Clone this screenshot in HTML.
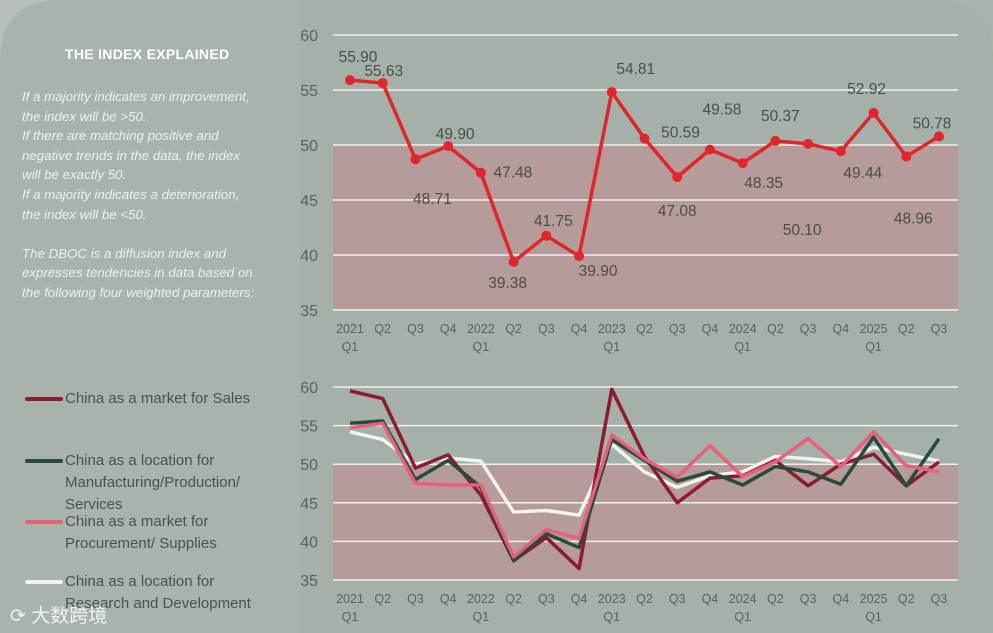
<!DOCTYPE html>
<html><head><meta charset="utf-8"><style>
html,body{margin:0;padding:0;width:993px;height:633px;overflow:hidden;background:#b7beb8;font-family:"Liberation Sans","Noto Sans CJK SC",sans-serif;}
#panel{position:absolute;left:0;top:0;width:993px;height:633px;}
.expl{position:absolute;left:22px;top:87px;width:264px;color:#eef0ec;font-style:italic;font-size:13.3px;line-height:19.6px;}
.title{position:absolute;left:65px;top:46px;color:#fff;font-weight:bold;font-size:14px;letter-spacing:0.3px;}
.leg{position:absolute;left:25px;font-size:15px;color:#4a524c;line-height:22px;}
.leg .sw{position:absolute;left:0;top:9px;width:38px;height:4px;border-radius:2px;}
.leg .tx{margin-left:40px;display:block;}
.wm{position:absolute;left:10px;top:601px;color:#f2f2f2;font-size:19px;}
</style></head><body>
<svg id="panel" width="993" height="633">
<rect x="0" y="0" width="993" height="633" fill="#b8bfb9"/>
<path d="M60 0 H993 V633 H0 V60 Q0 0 60 0 Z" fill="#a8b4ab"/>
<path d="M300 0 H930 Q993 0 993 60 V633 H300 Z" fill="#a5b1a8"/>
</svg>
<div class="title">THE INDEX EXPLAINED</div>
<div class="expl">If a majority indicates an improvement,<br>the index will be &gt;50.<br>If there are matching positive and<br>negative trends in the data, the index<br>will be exactly 50.<br>If a majority indicates a deterioration,<br>the index will be &lt;50.<br><br>The DBOC is a diffusion index and<br>expresses tendencies in data based on<br>the following four weighted parameters:</div>
<div class="leg" style="top:388px"><span class="sw" style="background:#8e1b35"></span><span class="tx">China as a market for Sales</span></div>
<div class="leg" style="top:450px"><span class="sw" style="background:#294a42"></span><span class="tx">China as a location for<br>Manufacturing/Production/<br>Services</span></div>
<div class="leg" style="top:511px"><span class="sw" style="background:#e8607a"></span><span class="tx">China as a market for<br>Procurement/ Supplies</span></div>
<div class="leg" style="top:571px"><span class="sw" style="background:#f2f2ee"></span><span class="tx">China as a location for<br>Research and Development</span></div>
<div class="wm">⟳ 大数跨境</div>
<svg id="charts" width="993" height="633" style="position:absolute;left:0;top:0"></svg>
<script>
const categories=["2021|Q1","Q2","Q3","Q4","2022|Q1","Q2","Q3","Q4","2023|Q1","Q2","Q3","Q4","2024|Q1","Q2","Q3","Q4","2025|Q1","Q2","Q3"];
const yTicks=[35,40,45,50,55,60];
const indexValues=[55.90,55.63,48.71,49.90,47.48,39.38,41.75,39.90,54.81,50.59,47.08,49.58,48.35,50.37,50.10,49.44,52.92,48.96,50.78];
const indexLabels=["55.90","55.63","48.71","49.90","47.48","39.38","41.75","39.90","54.81","50.59","47.08","49.58","48.35","50.37","50.10","49.44","52.92","48.96","50.78"];
const labelDx=[8,1,17,7,32,-6,7,19,24,36,0,12,21,5,-6,22,-7,7,-7];
const labelDy=[-18,-7,45,-7,5,26,-10,20,-18,-1,39,-35,25,-20,91,27,-19,67,-8];
const salesValues=[59.5,58.5,49.5,51.2,46,37.5,40.5,36.5,59.7,51,45,48.2,48.5,50.5,47.2,50,51.3,47.2,50.3];
const mfgValues=[55.3,55.6,48,50.5,47,37.5,41,39.2,53.2,50.5,47.8,49,47.3,49.7,49,47.4,53.5,47.2,53.3];
const procValues=[54.7,55.3,47.5,47.3,47.3,38,41.5,40.4,53.8,50.7,48.3,52.4,48.4,50.3,53.3,49.7,54.2,49.8,49];
const rndValues=[54.2,53.2,50,50.8,50.4,43.8,44,43.4,52.6,49,47,48.5,49,51,50.7,50.3,52.2,51.3,50.4];

const NS="http://www.w3.org/2000/svg";
const svgEl=document.getElementById('charts');
function mk(tag,attrs,parent){const e=document.createElementNS(NS,tag);for(const k in attrs)e.setAttribute(k,attrs[k]);(parent||svgEl).appendChild(e);return e;}
function xS(i){return 350+i*(939-350)/(categories.length-1);}
function chart(y0,y1,name){
  const yS=v=>y1-(v-35)*(y1-y0)/25;
  const g=mk('g',{});
  
  
  const band=mk('rect',{x:333,y:yS(50),width:625,height:yS(35)-yS(50),fill:'#b59b99'},g);
  
  
  yTicks.forEach(t=>{
    const l=mk('line',{x1:333,x2:958,y1:yS(t),y2:yS(t),stroke:'#eef0ee','stroke-width':1.5},g);
    
    
    const tx=mk('text',{x:318,y:yS(t)+6,'text-anchor':'end','font-size':16,fill:'#5a625c'},g);
    tx.textContent=t;
    
    
  });
  categories.forEach((c,i)=>{
    const p=c.split('|');
    const tx=mk('text',{x:xS(i),y:y1+23,'text-anchor':'middle','font-size':12.5,fill:'#5a625c'},g);
    tx.textContent=p[0];
    
    
    if(p[1]){const t2=mk('text',{x:xS(i),y:y1+41,'text-anchor':'middle','font-size':12.5,fill:'#5a625c'},g);t2.textContent=p[1];
      
      }
  });
  return {g,yS};
}
const topChart=chart(35,310,'index-chart');
const pts=indexValues.map((v,i)=>xS(i)+','+topChart.yS(v)).join(' ');
const ln=mk('polyline',{points:pts,fill:'none',stroke:'#e0262b','stroke-width':3.5},topChart.g);


indexValues.forEach((v,i)=>{
  const c=mk('circle',{cx:xS(i),cy:topChart.yS(v),r:5,fill:'#e0262b'},topChart.g);
  
  
  if(indexLabels[i]){
    const t=mk('text',{x:xS(i)+labelDx[i],y:topChart.yS(v)+labelDy[i],'text-anchor':'middle','font-size':15.5,fill:'#4a4f4b'},topChart.g);
    t.textContent=indexLabels[i];
    
    
  }
});
const botChart=chart(387,580,'components-chart');
[[rndValues,'#f2f2ee','rnd-line'],[salesValues,'#8e1b35','sales-line'],[mfgValues,'#294a42','manufacturing-line'],[procValues,'#e8607a','procurement-line']].forEach(s=>{
  const l=mk('polyline',{points:s[0].map((v,i)=>xS(i)+','+botChart.yS(v)).join(' '),fill:'none',stroke:s[1],'stroke-width':3.5,'stroke-linejoin':'round'},botChart.g);
  
  
});
</script>
</body></html>
